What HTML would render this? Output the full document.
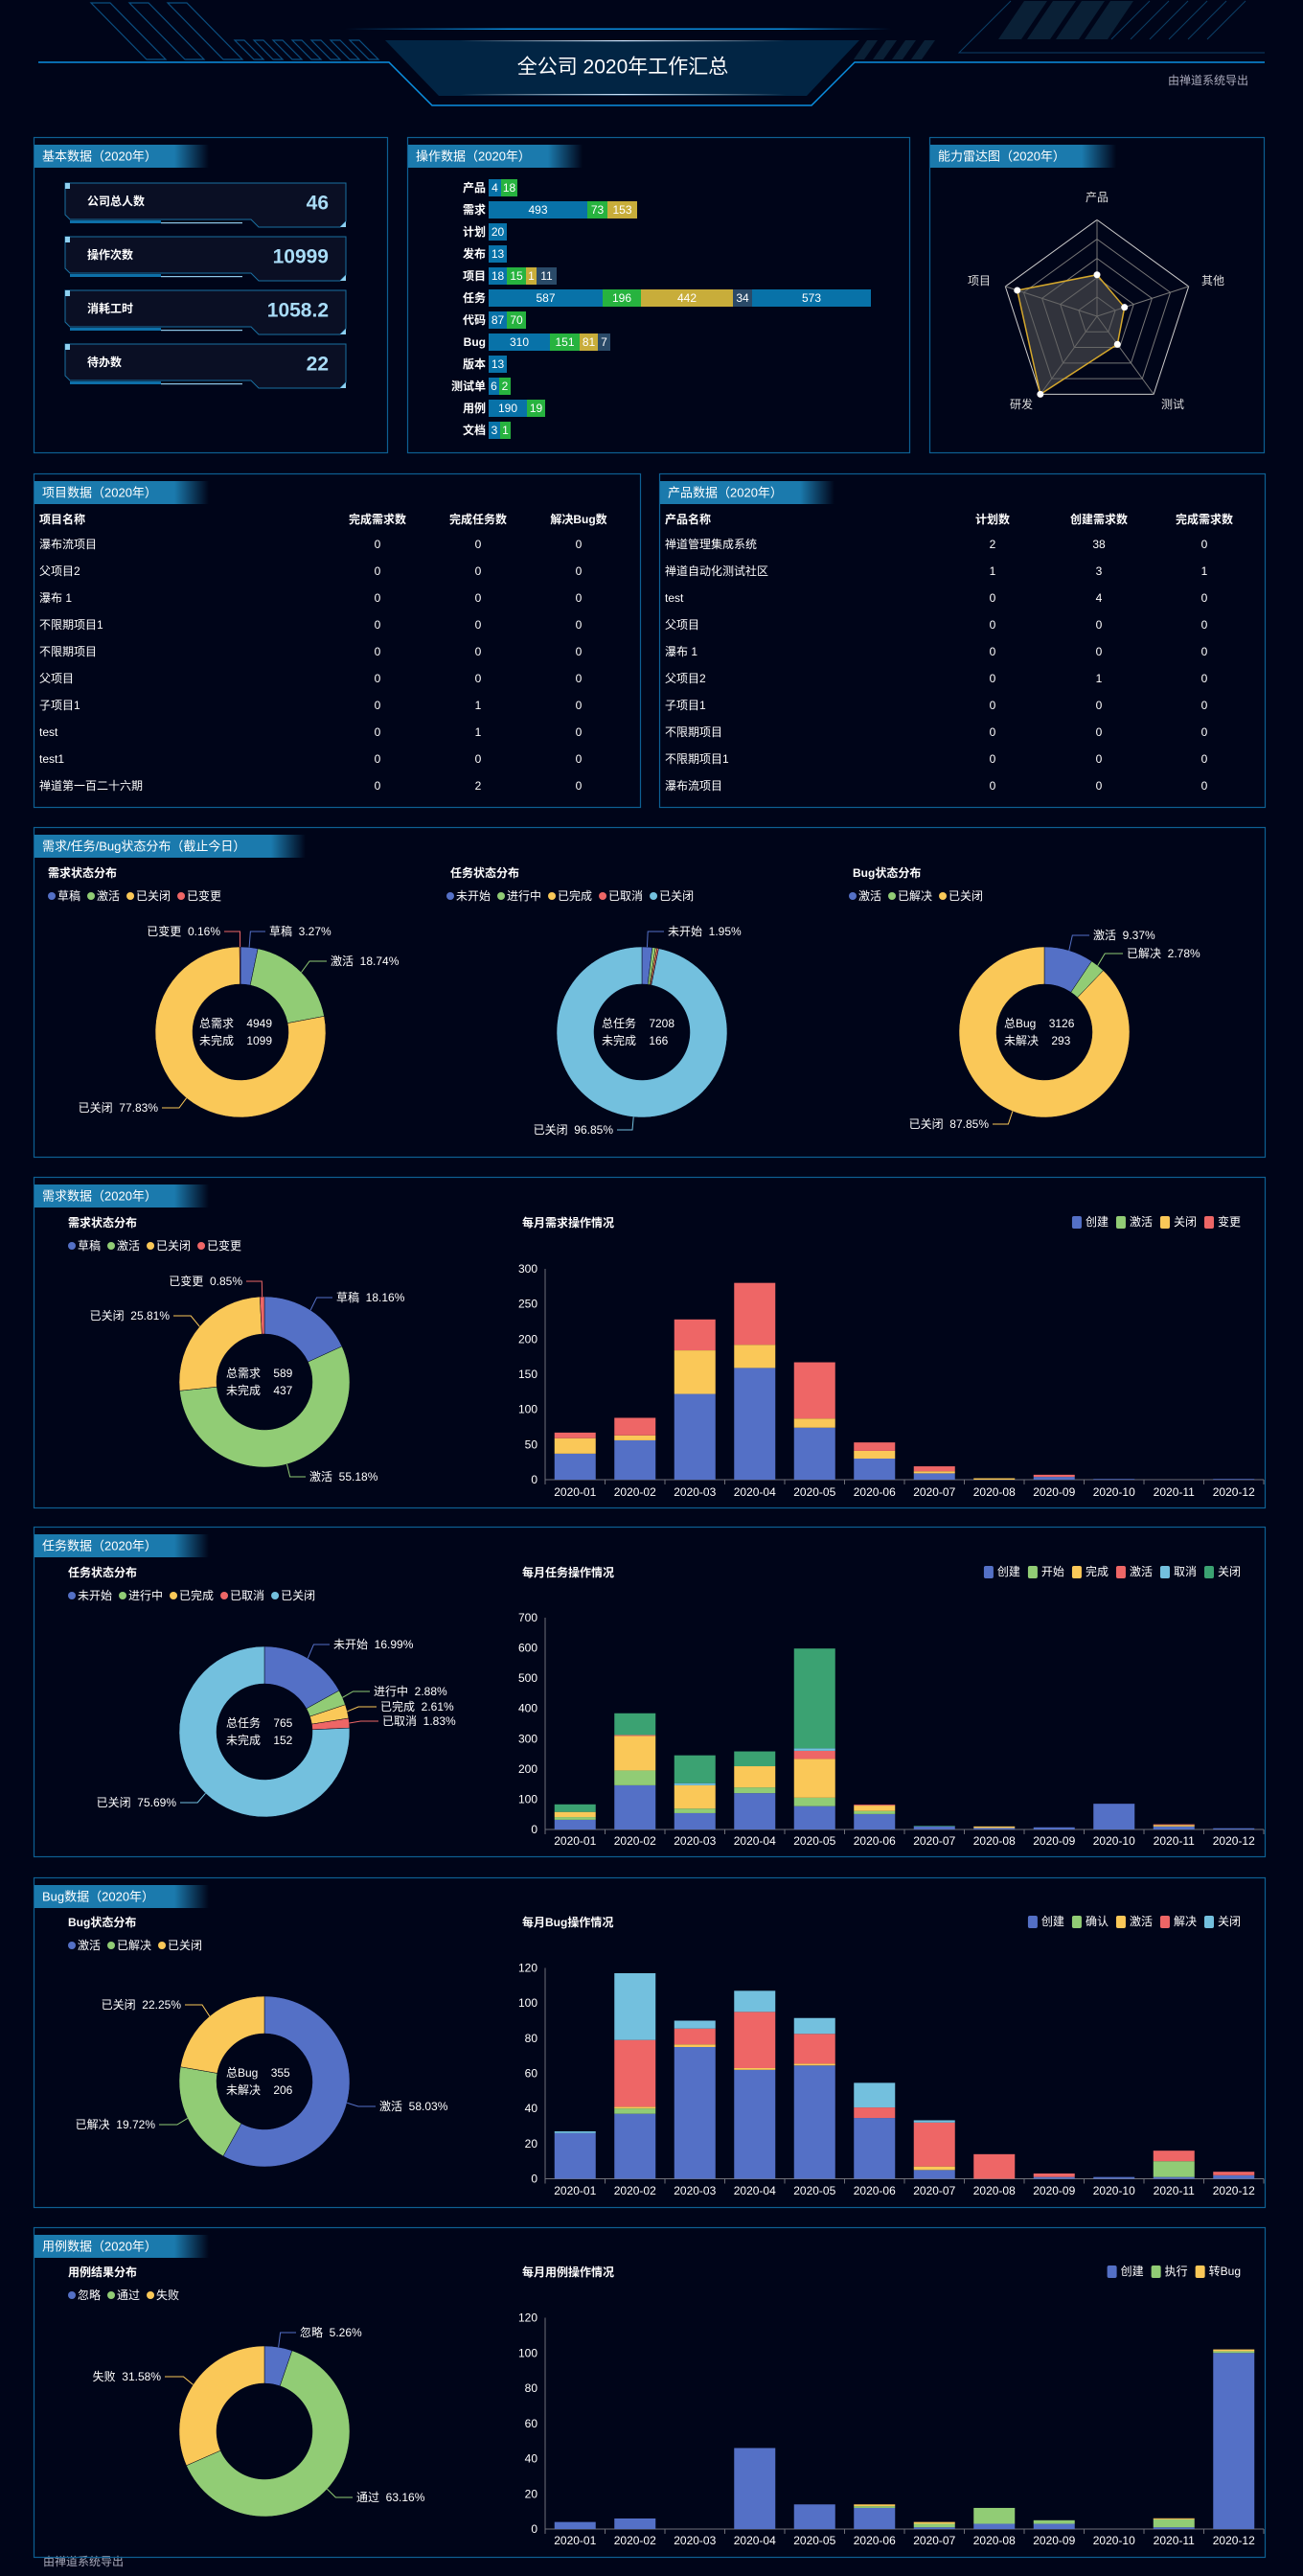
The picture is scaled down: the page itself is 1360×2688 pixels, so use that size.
<!DOCTYPE html>
<html><head><meta charset="utf-8">
<style>
html,body{margin:0;padding:0;background:#000519;}
svg{display:block;font-family:"Liberation Sans","Noto Sans CJK SC",sans-serif;}
svg text{white-space:pre;}
</style></head>
<body>
<svg id="s" xmlns="http://www.w3.org/2000/svg" width="1360" height="2688" viewBox="0 0 1360 2688" xml:space="preserve">
<defs>
<linearGradient id="tl" x1="0" x2="1"><stop offset="0" stop-color="#0a8fe0" stop-opacity="0"/><stop offset="0.3" stop-color="#0a8fe0"/><stop offset="0.8" stop-color="#0a8fe0"/><stop offset="1" stop-color="#0a8fe0" stop-opacity="0"/></linearGradient>
<linearGradient id="wl" x1="0" x2="1"><stop offset="0" stop-color="#fff" stop-opacity="0"/><stop offset="0.5" stop-color="#cfe6ff"/><stop offset="1" stop-color="#fff" stop-opacity="0"/></linearGradient>
</defs>
<rect width="1360" height="2688" fill="#000519"/>
<g fill="none" stroke="#0b4f80" stroke-width="1.2">
<polygon points="95,3 115,3 173,62 153,62"/>
<polygon points="135,3 155,3 213,62 193,62"/>
<polygon points="175,3 195,3 253,62 233,62"/>
<polygon points="245,42 255,42 275,62 265,62"/>
<polygon points="265,42 275,42 295,62 285,62"/>
<polygon points="285,42 295,42 315,62 305,62"/>
<polygon points="305,42 315,42 335,62 325,62"/>
<polygon points="325,42 335,42 355,62 345,62"/>
<polygon points="345,42 355,42 375,62 365,62"/>
<polygon points="365,42 375,42 395,62 385,62"/>
</g>
<g fill="#0a2036">
<polygon points="905,42 916,42 902,62 891,62"/><polygon points="925,42 936,42 922,62 911,62"/><polygon points="945,42 956,42 942,62 931,62"/><polygon points="965,42 976,42 962,62 951,62"/>
<polygon points="1069,1 1093,1 1066,41 1042,41"/><polygon points="1099,1 1123,1 1096,41 1072,41"/><polygon points="1129,1 1153,1 1126,41 1102,41"/><polygon points="1159,1 1183,1 1156,41 1132,41"/>
</g>
<g stroke="#0b3f66" stroke-width="1" fill="none">
<line x1="1200" y1="1" x2="1160" y2="41"/><line x1="1220" y1="1" x2="1180" y2="41"/><line x1="1240" y1="1" x2="1200" y2="41"/><line x1="1260" y1="1" x2="1220" y2="41"/><line x1="1280" y1="1" x2="1240" y2="41"/><line x1="1300" y1="1" x2="1260" y2="41"/>
<polyline points="1055,1 1001,55 1320,55"/>
</g>
<polygon points="402,42 897,42 842,100 458,100" fill="#022544"/>
<rect x="360" y="29.5" width="570" height="1.5" fill="url(#tl)"/>
<rect x="480" y="42" width="340" height="1.2" fill="url(#wl)"/>
<rect x="480" y="98" width="340" height="1.2" fill="url(#wl)"/>
<polyline points="40,65 406,65 451,110 847,110 892,65 1320,65" fill="none" stroke="#0a8fe0" stroke-width="1.5"/>
<text x="650" y="70" font-size="21" fill="#fff" text-anchor="middle" dominant-baseline="central">全公司 2020年工作汇总</text>
<text x="1303" y="84" font-size="12" fill="#aab" text-anchor="end" dominant-baseline="central">由禅道系统导出</text>
<text x="45" y="2673" font-size="12" fill="#aab" dominant-baseline="central">由禅道系统导出</text>
<g id="g"></g>
</svg>
<script>
var NS="http://www.w3.org/2000/svg",G=document.getElementById('g'),D=document.querySelector('defs');
function el(t,a,txt,p){var e=document.createElementNS(NS,t);for(var k in a)e.setAttribute(k,a[k]);if(txt!==undefined)e.textContent=txt;(p||G).appendChild(e);return e;}
function T(x,y,s,o){o=o||{};return el('text',{x:x,y:y,'font-size':o.fs||12,fill:o.c||'#fff','text-anchor':o.a||'start','dominant-baseline':'central','font-weight':o.b?'bold':'normal'},s);}
var P=[[35,143,369,329,'基本数据（2020年）',146],[425,143,524,329,'操作数据（2020年）',146],[970,143,349,329,'能力雷达图（2020年）',158],[35,494,633,348,'项目数据（2020年）',146],[688,494,632,348,'产品数据（2020年）',146],[35,863,1285,344,'需求/任务/Bug状态分布（截止今日）',247],[35,1228,1285,345,'需求数据（2020年）',146],[35,1593,1285,344,'任务数据（2020年）',146],[35,1959,1285,344,'Bug数据（2020年）',146],[35,2324,1285,344,'用例数据（2020年）',146]];
P.forEach(function(p,i){
 el('rect',{x:p[0]+.5,y:p[1]+.5,width:p[2],height:p[3],fill:'none',stroke:'#0d5f92','stroke-width':1.2});
 var id='tg'+i,w=p[5]+36;var g=el('linearGradient',{id:id,x1:0,x2:1},undefined,D);
 el('stop',{offset:0,'stop-color':'#1b7aad'},undefined,g);el('stop',{offset:p[5]/w,'stop-color':'#1b7aad'},undefined,g);el('stop',{offset:1,'stop-color':'#1b7aad','stop-opacity':0},undefined,g);
 el('rect',{x:p[0]+1,y:p[1]+8,width:w,height:24,fill:'url(#'+id+')'});
 T(p[0]+9,p[1]+20,p[4],{fs:13});
});
[['公司总人数','46'],['操作次数','10999'],['消耗工时','1058.2'],['待办数','22']].forEach(function(c,i){
 var y=191+56*i;
 el('polygon',{points:'68,'+y+' 361,'+y+' 361,'+(y+40)+' 355,'+(y+46)+' 270,'+(y+46)+' 262,'+(y+38)+' 73,'+(y+38)+' 68,'+(y+33),fill:'#0a0f24',stroke:'#1a6fa0','stroke-width':1});
 el('rect',{x:68,y:y,width:5,height:6,fill:'#8fd0f0'});
 el('rect',{x:73,y:y+39,width:95,height:3,fill:'#0d6fa8'});
 el('rect',{x:168,y:y+41,width:85,height:1.2,fill:'#8fc8e8'});
 el('polygon',{points:'361,'+(y+40)+' 361,'+(y+46)+' 355,'+(y+46),fill:'#8fd0f0'});
 T(91,y+19,c[0],{fs:12,b:1});T(343,y+21,c[1],{fs:21,b:1,a:'end',c:'#a9dcf7'});
});
var cB='#0872a8',cG='#27b33f',cY='#c8ad3a',cS='#2a4a68';
var OP=[['产品',[[510,523,'4',cB],[523,540,'18',cG]]],['需求',[[510,613,'493',cB],[613,634,'73',cG],[634,665,'153',cY]]],['计划',[[510,529,'20',cB]]],['发布',[[510,529,'13',cB]]],['项目',[[510,529,'18',cB],[529,549,'15',cG],[549,560,'1',cY],[560,581,'11',cS]]],['任务',[[510,629,'587',cB],[629,669,'196',cG],[669,765,'442',cY],[765,785,'34',cS],[785,909,'573',cB]]],['代码',[[510,529,'87',cB],[529,549,'70',cG]]],['Bug',[[510,574,'310',cB],[574,605,'151',cG],[605,624,'81',cY],[624,637,'7',cS]]],['版本',[[510,529,'13',cB]]],['测试单',[[510,521,'6',cB],[521,533,'2',cG]]],['用例',[[510,550,'190',cB],[550,569,'19',cG]]],['文档',[[510,522,'3',cB],[522,533,'1',cG]]]];
OP.forEach(function(o,i){var y=196+23*i;T(507,y,o[0],{a:'end',b:1});o[1].forEach(function(s){el('rect',{x:s[0],y:y-9,width:s[1]-s[0],height:18,fill:s[3]});T((s[0]+s[1])/2,y,s[2],{a:'middle'});});});
(function(){var cx=1145,cy=330,R=100.6;function pt(i,r){var a=(-90+72*i)*Math.PI/180;return[cx+r*R*Math.cos(a),cy+r*R*Math.sin(a)];}
 for(var l=1;l<=5;l++){var ps=[];for(var i=0;i<5;i++)ps.push(pt(i,l/5).join(','));el('polygon',{points:ps.join(' '),fill:'none',stroke:l==5?'#ccc':'#777','stroke-width':1});}
 for(var i=0;i<5;i++){var p=pt(i,1);el('line',{x1:cx,y1:cy,x2:p[0],y2:p[1],stroke:'#777'});}
 var v=[0.43,0.30,0.36,1.0,0.87],ps=[];for(var i=0;i<5;i++)ps.push(pt(i,v[i]));
 el('polygon',{points:ps.map(function(p){return p.join(',')}).join(' '),fill:'rgba(90,90,90,0.55)',stroke:'#d4a72c','stroke-width':1.5});
 ps.forEach(function(p){el('circle',{cx:p[0],cy:p[1],r:3.5,fill:'#fff'});});
 T(1145,206,'产品',{a:'middle',c:'#ddd'});T(1266,293,'其他',{a:'middle',c:'#ddd'});T(1224,422,'测试',{a:'middle',c:'#ddd'});T(1066,422,'研发',{a:'middle',c:'#ddd'});T(1022,293,'项目',{a:'middle',c:'#ddd'});
})();
function table(x0,cols,head,rows){var y=542;T(x0,y,head[0],{b:1});for(var j=0;j<3;j++)T(cols[j],y,head[j+1],{b:1,a:'middle'});
 rows.forEach(function(r,i){var yy=568+28*i;T(x0,yy,r[0]);for(var j=0;j<3;j++)T(cols[j],yy,r[j+1],{a:'middle'});});}
table(41,[394,499,604],['项目名称','完成需求数','完成任务数','解决Bug数'],[['瀑布流项目','0','0','0'],['父项目2','0','0','0'],['瀑布 1','0','0','0'],['不限期项目1','0','0','0'],['不限期项目','0','0','0'],['父项目','0','0','0'],['子项目1','0','1','0'],['test','0','1','0'],['test1','0','0','0'],['禅道第一百二十六期','0','2','0']]);
table(694,[1036,1147,1257],['产品名称','计划数','创建需求数','完成需求数'],[['禅道管理集成系统','2','38','0'],['禅道自动化测试社区','1','3','1'],['test','0','4','0'],['父项目','0','0','0'],['瀑布 1','0','0','0'],['父项目2','0','1','0'],['子项目1','0','0','0'],['不限期项目','0','0','0'],['不限期项目1','0','0','0'],['瀑布流项目','0','0','0']]);
var B='#5470c6',Gr='#91cc75',Y='#fac858',Rd='#ee6666',C='#73c0de',DG='#3ba272';
function legendL(x,y,items){items.forEach(function(it){el('circle',{cx:x+4,cy:y,r:4,fill:it[1]});var t=T(x+10,y,it[0]);x+=10+t.getComputedTextLength()+7;});}
function legendR(xr,y,items){var x=xr;for(var i=items.length-1;i>=0;i--){var t=T(0,y,items[i][0]);var w=t.getComputedTextLength();x-=w;t.setAttribute('x',x);x-=14;el('rect',{x:x,y:y-6,width:10,height:13,rx:2,fill:items[i][1]});x-=8;}}
function pie(cx,cy,data,labels,center){var r0=50,r1=89,a=0;
 data.forEach(function(d,i){var a0=a,a1=a+d[0]/100;a=a1;var f=function(t,r){var an=t*2*Math.PI-Math.PI/2;return[cx+r*Math.cos(an),cy+r*Math.sin(an)];};
  var p0=f(a0,r1),p1=f(a1,r1),q1=f(a1,r0),q0=f(a0,r0),lg=(a1-a0)>0.5?1:0;
  el('path',{d:'M'+p0+' A'+r1+','+r1+' 0 '+lg+' 1 '+p1+' L'+q1+' A'+r0+','+r0+' 0 '+lg+' 0 '+q0+' Z',fill:d[1],stroke:'#000519','stroke-width':0.5});
  var L=labels[i];if(!L)return;var m=f((a0+a1)/2,r1),m2=f((a0+a1)/2,r1+12);var right=L[3]!=='e';
  var lx=right?L[1]-4:L[1]+4;el('polyline',{points:m+' '+m2[0]+','+L[2]+' '+lx+','+L[2],fill:'none',stroke:d[1],'stroke-width':1});
  T(L[1],L[2],L[0],{a:right?'start':'end'});});
 T(center[0],center[1]-9,center[2]);T(center[0],center[1]+9,center[3]);}
T(50,911,'需求状态分布',{b:1});T(470,911,'任务状态分布',{b:1});T(890,911,'Bug状态分布',{b:1});
legendL(50,935,[['草稿',B],['激活',Gr],['已关闭',Y],['已变更',Rd]]);
legendL(466,935,[['未开始',B],['进行中',Gr],['已完成',Y],['已取消',Rd],['已关闭',C]]);
legendL(886,935,[['激活',B],['已解决',Gr],['已关闭',Y]]);
pie(251,1077,[[3.27,B],[18.74,Gr],[77.83,Y],[0.16,Rd]],[['草稿  3.27%',281,972],['激活  18.74%',345,1003],['已关闭  77.83%',165,1156,'e'],['已变更  0.16%',230,972,'e']],[208,1077,'总需求    4949','未完成    1099']);
pie(670,1077,[[1.95,B],[0.6,Gr],[0.3,Y],[0.3,Rd],[96.85,C]],[['未开始  1.95%',697,972],null,null,null,['已关闭  96.85%',640,1179,'e']],[628,1077,'总任务    7208','未完成    166']);
pie(1090,1077,[[9.37,B],[2.78,Gr],[87.85,Y]],[['激活  9.37%',1141,976],['已解决  2.78%',1176,995],['已关闭  87.85%',1032,1173,'e']],[1048,1077,'总Bug    3126','未解决    293']);
var M=['2020-01','2020-02','2020-03','2020-04','2020-05','2020-06','2020-07','2020-08','2020-09','2020-10','2020-11','2020-12'];
function bars(y0,yt,max,step,cols,data,ly){var x0=569,cw=62.5,k=(y0-yt)/max;
 for(var v=0;v<=max;v+=step){T(561,y0-v*k,String(v),{a:'end'});}
 el('line',{x1:x0,y1:yt,x2:x0,y2:y0,stroke:'#6e7079'});el('line',{x1:x0,y1:y0,x2:1319,y2:y0,stroke:'#6e7079'});
 for(var i=0;i<=12;i++)el('line',{x1:x0+cw*i,y1:y0,x2:x0+cw*i,y2:y0+5,stroke:'#6e7079'});
 M.forEach(function(m,i){T(x0+cw*i+cw/2,ly,m,{a:'middle'});var y=y0;data[i].forEach(function(v,j){if(!v)return;var h=v*k;y-=h;el('rect',{x:x0+cw*i+9.75,y:y,width:43,height:h,fill:cols[j]});});});}
T(71,1276,'需求状态分布',{b:1});legendL(71,1300,[['草稿',B],['激活',Gr],['已关闭',Y],['已变更',Rd]]);
T(545,1276,'每月需求操作情况',{b:1});legendR(1295,1275,[['创建',B],['激活',Gr],['关闭',Y],['变更',Rd]]);
pie(276,1442,[[18.16,B],[55.18,Gr],[25.81,Y],[0.85,Rd]],[['草稿  18.16%',351,1354],['激活  55.18%',323,1541],['已关闭  25.81%',177,1373,'e'],['已变更  0.85%',253,1337,'e']],[236,1442,'总需求    589','未完成    437']);
bars(1544,1324,300,50,[B,Gr,Y,Rd],[[37,0,22,8],[56,0,7,25],[122,0,62,44],[159,0,33,88],[74,0,13,80],[30,0,11,12],[9,0,3,7],[0,0,2,0],[4,0,0,3],[1,0,0,0],[0,0,0,0],[1,0,0,0]],1557);
T(71,1641,'任务状态分布',{b:1});legendL(71,1665,[['未开始',B],['进行中',Gr],['已完成',Y],['已取消',Rd],['已关闭',C]]);
T(545,1641,'每月任务操作情况',{b:1});legendR(1295,1640,[['创建',B],['开始',Gr],['完成',Y],['激活',Rd],['取消',C],['关闭',DG]]);
pie(276,1807,[[16.99,B],[2.88,Gr],[2.61,Y],[1.83,Rd],[75.69,C]],[['未开始  16.99%',348,1716],['进行中  2.88%',390,1765],['已完成  2.61%',397,1781],['已取消  1.83%',399,1796],['已关闭  75.69%',184,1881,'e']],[236,1807,'总任务    765','未完成    152']);
bars(1909,1688,700,100,[B,Gr,Y,Rd,C,DG],[[32,9,17,0,0,25],[146,49,114,3,0,72],[54,15,77,0,7,92],[120,19,70,0,0,49],[77,28,128,27,8,330],[51,10,18,3,0,0],[10,0,0,0,0,2],[5,0,5,0,0,0],[7,0,0,0,0,0],[85,0,0,0,0,0],[10,0,5,2,0,0],[4,0,0,0,0,0]],1921);
T(71,2006,'Bug状态分布',{b:1});legendL(71,2030,[['激活',B],['已解决',Gr],['已关闭',Y]]);
T(545,2006,'每月Bug操作情况',{b:1});legendR(1295,2005,[['创建',B],['确认',Gr],['激活',Y],['解决',Rd],['关闭',C]]);
pie(276,2172,[[58.03,B],[19.72,Gr],[22.25,Y]],[['激活  58.03%',396,2198],['已解决  19.72%',162,2217,'e'],['已关闭  22.25%',189,2092,'e']],[236,2172,'总Bug    355','未解决    206']);
bars(2273.5,2053.5,120,20,[B,Gr,Y,Rd,C],[[26,0,0,0,1],[37,3,1,38,38],[75,0,1.5,9,4.5],[62,0,1,32,12],[64.5,0,1,17,9],[34.6,0,0,6,14],[5,0,2,25,1.3],[0,0,0,14,0],[1,0,0,2,0],[1,0,0,0,0],[1,9,0,6,0],[2,0,0,2,0]],2286);
T(71,2371,'用例结果分布',{b:1});legendL(71,2395,[['忽略',B],['通过',Gr],['失败',Y]]);
T(545,2371,'每月用例操作情况',{b:1});legendR(1295,2370,[['创建',B],['执行',Gr],['转Bug',Y]]);
pie(276,2537,[[5.26,B],[63.16,Gr],[31.58,Y]],[['忽略  5.26%',313,2434],['通过  63.16%',372,2606],['失败  31.58%',168,2480,'e']],[236,2537,'','']);
bars(2639,2418.5,120,20,[B,Gr,Y],[[4,0,0],[6,0,0],[0,0,0],[46,0,0],[14,0,0],[12,1,1],[1,2,1],[3,9,0],[3,2,0],[0,0,0],[1,4.5,0.6],[100,1,1]],2651);
</script>
</body></html>
